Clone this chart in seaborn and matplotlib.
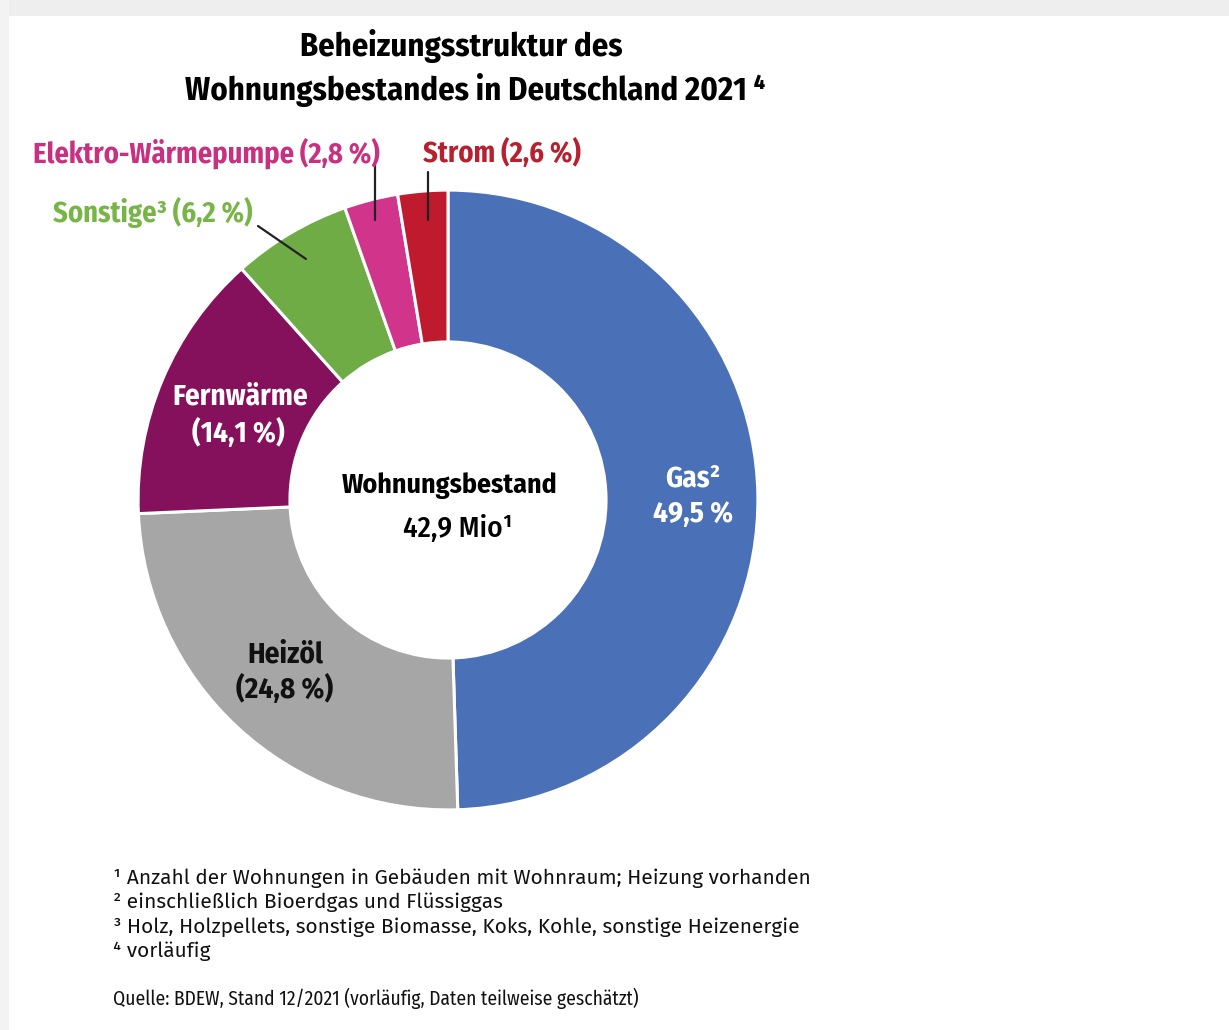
import matplotlib
matplotlib.use("Agg")
import matplotlib.pyplot as plt
import seaborn as sns
from matplotlib.lines import Line2D
from matplotlib.patches import Rectangle

sns.set_theme(style="white")
plt.rcParams['font.family'] = ['Fira Sans Condensed', 'Asap Condensed', 'DejaVu Sans']
regular_family = ['Fira Sans', 'Fira Sans Condensed', 'DejaVu Sans']

# data
categories = ["Gas", "Heizöl", "Fernwärme", "Sonstige", "Elektro-Wärmepumpe", "Strom"]
shares = [49.5, 24.8, 14.1, 6.2, 2.8, 2.6]
colors = ["#4a70b8", "#a6a6a6", "#85105b", "#6fac46", "#d1348b", "#bf1a2d"]

W, H = 1229, 1030


def fx(x):
    return x / W


def fy(y):
    return 1 - y / H


fig = plt.figure(figsize=(W / 100, H / 100), dpi=100)
fig.patch.set_facecolor("white")
# light grey frame of the card
fig.add_artist(Rectangle((0, fy(16)), 1, 16 / H, transform=fig.transFigure,
                         color="#eeeeee", lw=0, zorder=0))
fig.add_artist(Rectangle((0, 0), 9 / W, 1, transform=fig.transFigure,
                         color="#f3f3f3", lw=0, zorder=0))

# donut: centre (448, 500), outer radius 313 px
cx, cy, r = 448, 500, 313
ax = fig.add_axes([fx(cx - r), fy(cy + r), 2 * r / W, 2 * r / H])
ax.pie(shares, colors=sns.color_palette(colors), startangle=90, counterclock=False,
       radius=1, wedgeprops=dict(width=0.49, edgecolor="white", linewidth=2.2))
ax.set_xlim(-1.01, 1.01)
ax.set_ylim(-1.01, 1.01)
ax.set_axis_off()

bold = dict(fontweight="bold", ha="center", va="center")

# title
fig.text(fx(461), fy(46), "Beheizungsstruktur des", fontsize=23.5, color="black", **bold)
fig.text(fx(475), fy(90), "Wohnungsbestandes in Deutschland 2021 \u2074", fontsize=23.5,
         color="black", **bold)

# outside labels
fig.text(fx(33), fy(153), "Elektro-Wärmepumpe (2,8 %)", ha="left", va="center",
         fontsize=20.5, fontweight="bold", color="#c8317f")
fig.text(fx(423), fy(153), "Strom (2,6 %)", ha="left", va="center",
         fontsize=20.5, fontweight="bold", color="#b8202f")
fig.text(fx(53), fy(213), "Sonstige\u00b3 (6,2 %)", ha="left", va="center",
         fontsize=20.5, fontweight="bold", color="#78b547")

# leader lines
for (x0, y0), (x1, y1) in [((258, 226), (306, 259)), ((375, 165), (375, 220)),
                           ((428, 172), (428, 220))]:
    fig.add_artist(Line2D([fx(x0), fx(x1)], [fy(y0), fy(y1)], transform=fig.transFigure,
                          color="#222222", lw=1.6))

# inside labels
fig.text(fx(240), fy(397), "Fernwärme", fontsize=21, color="white", **bold)
fig.text(fx(238), fy(433), "(14,1 %)", fontsize=21, color="white", **bold)
fig.text(fx(285), fy(655), "Heizöl", fontsize=21, color="#111111", **bold)
fig.text(fx(285), fy(689), "(24,8 %)", fontsize=21, color="#111111", **bold)
fig.text(fx(693), fy(479), "Gas\u00b2", fontsize=21, color="white", **bold)
fig.text(fx(693), fy(514), "49,5 %", fontsize=21, color="white", **bold)

# centre
fig.text(fx(450), fy(486), "Wohnungsbestand", fontsize=20, color="black", **bold)
fig.text(fx(458), fy(529), "42,9 Mio\u00b9", fontsize=21, color="black", ha="center",
         va="center", fontweight="medium")

# footnotes
notes = ["\u00b9 Anzahl der Wohnungen in Gebäuden mit Wohnraum; Heizung vorhanden",
         "\u00b2 einschließlich Bioerdgas und Flüssiggas",
         "\u00b3 Holz, Holzpellets, sonstige Biomasse, Koks, Kohle, sonstige Heizenergie",
         "\u2074 vorläufig"]
for i, note in enumerate(notes):
    fig.text(fx(113), fy(878 + i * 24.5), note, ha="left", va="center", fontsize=15,
             color="#111111", family=regular_family)

fig.text(fx(113), fy(998), "Quelle: BDEW, Stand 12/2021 (vorläufig, Daten teilweise geschätzt)",
         ha="left", va="center", fontsize=14, color="#111111")

fig.savefig("out.png", dpi=100, facecolor=fig.get_facecolor())
